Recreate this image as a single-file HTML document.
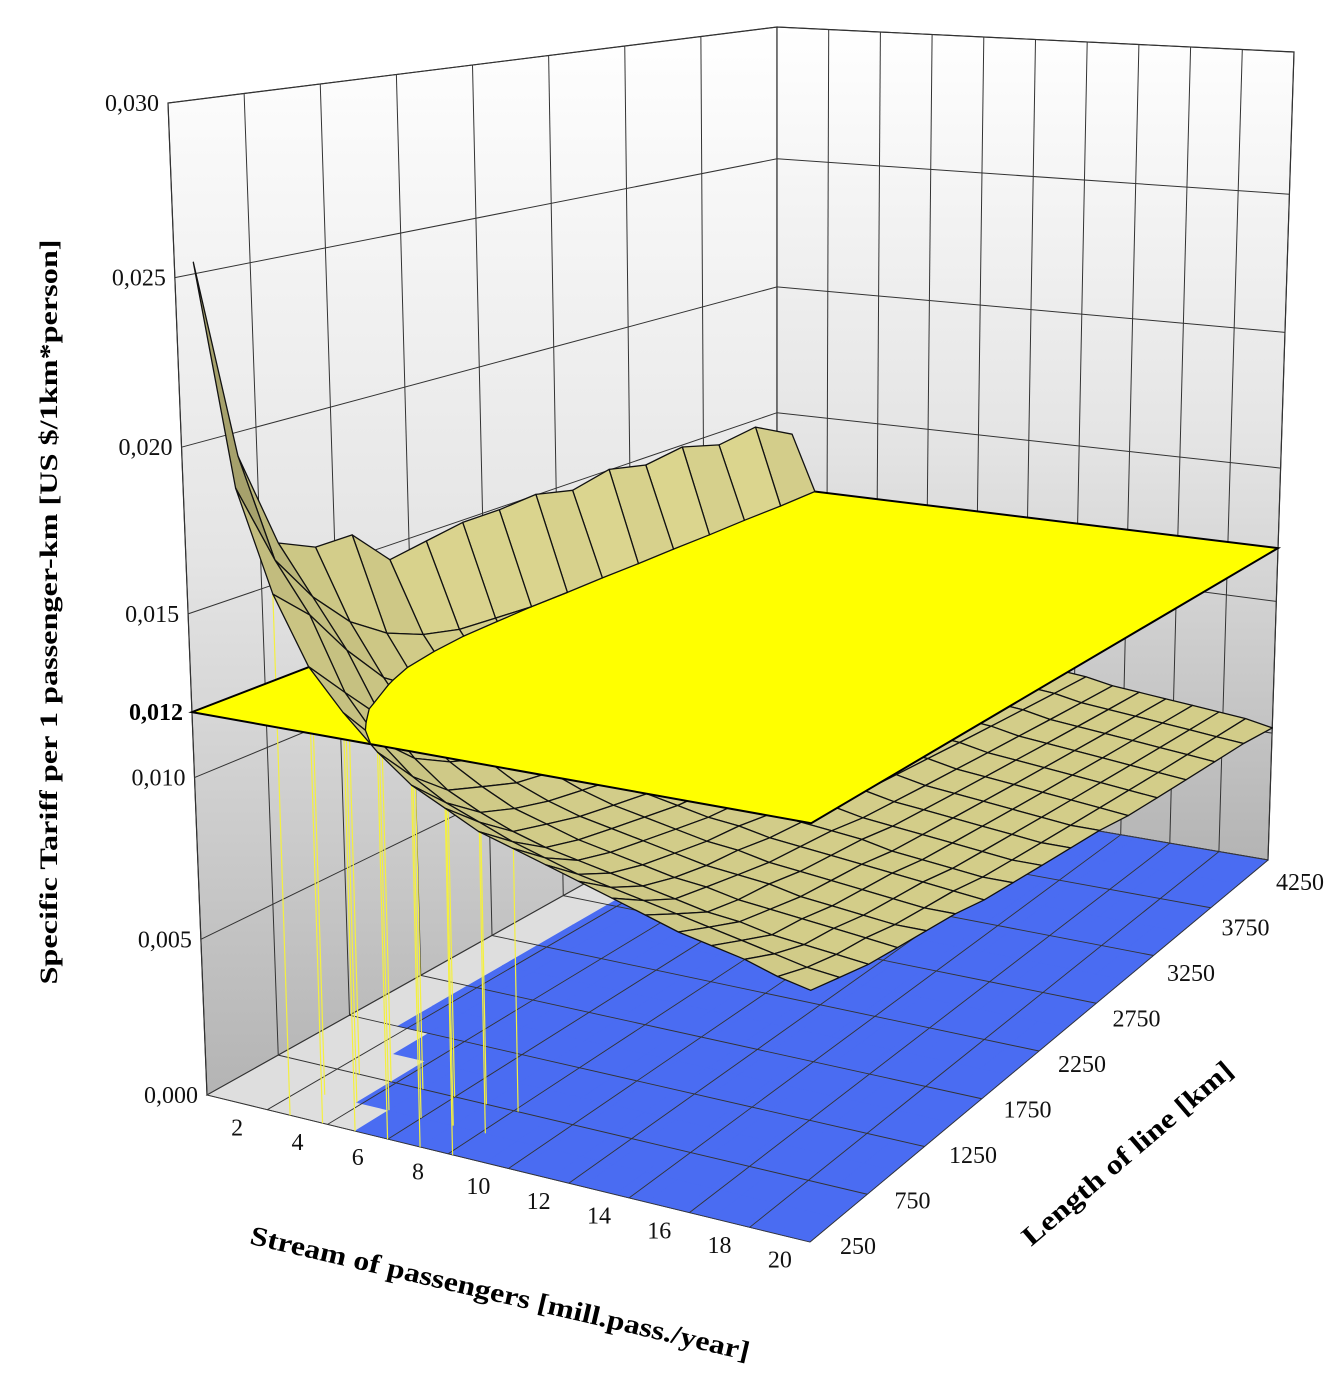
<!DOCTYPE html>
<html><head><meta charset="utf-8"><style>
html,body{margin:0;padding:0;background:#fff;}
svg{display:block;font-family:"Liberation Serif",serif;}
</style></head><body>
<svg id="chart" width="1343" height="1374" viewBox="0 0 1343 1374" xmlns="http://www.w3.org/2000/svg">
<defs>
<linearGradient id="wallGrad" x1="0" y1="0" x2="0" y2="1">
<stop offset="0" stop-color="#ffffff"/><stop offset="0.5" stop-color="#e4e4e4"/><stop offset="1" stop-color="#b4b4b4"/>
</linearGradient>
</defs>
<g id="walls"></g>
<g id="floor"></g>
<g id="surfLow"></g>
<g id="plane"></g>
<g id="surfHigh"></g>
<g id="labels"></g>
<text transform="translate(57,612) rotate(-90)" text-anchor="middle" font-weight="bold" font-size="25" textLength="745" lengthAdjust="spacingAndGlyphs">Specific Tariff per 1 passenger-km [US $/1km*person]</text>
<text transform="translate(498,1302) rotate(13.2)" text-anchor="middle" font-weight="bold" font-size="27" textLength="512" lengthAdjust="spacingAndGlyphs">Stream of passengers [mill.pass./year]</text>
<text transform="translate(1133,1160) rotate(-40.5)" text-anchor="middle" font-weight="bold" font-size="27" textLength="268" lengthAdjust="spacingAndGlyphs">Length of line [km]</text>
</svg>
<script>
const streamValues=[2,3,4,5,6,7,8,9,10,11,12,13,14,15,16,17,18,19,20];
const lengthValues=[250,500,750,1000,1250,1500,1750,2000,2250,2500,2750,3000,3250,3500,3750,4000,4250];
// tariff in units of 1e-4 US$ ; rows = length, cols = stream
const tariffE4=[
[255,190,160,140,128,118,110,105,100,97,94,91,88,85,82,80,78,75,73],
[195,165,150,128,115,106,100,96,92,89,86,84,82,80,78,76,74,72,71],
[165,150,135,116,105,97,92,88,85,83,81,79,77,75,74,72,71,70,69],
[160,138,122,108,99,93,88,85,82,80,78,76,75,73,72,71,70,69,68],
[160,130,114,103,95,89,85,82,80,78,76,74,73,72,70,69,68,67,67],
[148,125,110,100,92,87,83,80,78,76,74,73,71,70,69,68,67,66,66],
[150,122,107,97,90,85,81,78,76,74,73,71,70,69,68,67,66,65,64],
[152,121,105,95,88,83,80,77,75,73,71,70,69,68,66,65,64,63,63],
[152,120,104,94,87,82,79,76,74,72,70,69,67,66,65,64,63,62,62],
[153,120,103,93,86,81,78,75,73,71,69,68,66,65,64,63,62,61,61],
[150,119,102,92,85,80,77,74,72,70,68,67,65,64,63,62,61,60,60],
[153,119,101,91,84,79,76,73,71,69,67,66,64,63,62,61,60,59,58],
[150,118,100,90,83,78,75,72,70,68,66,65,63,62,61,60,59,58,57],
[152,118,100,89,82,77,74,71,69,67,65,64,62,61,60,59,58,57,56],
[148,117,99,88,81,77,73,70,68,66,64,63,61,60,59,58,57,56,55],
[150,117,98,88,81,76,72,69,67,65,63,62,60,59,58,57,56,55,54],
[142,116,98,87,80,75,72,69,66,64,62,61,59,58,57,56,55,54,52]
];
const zTicks=[0,0.005,0.010,0.015,0.020,0.025,0.030];
const zTickLabels=["0,000","0,005","0,010","0,015","0,020","0,025","0,030"];
const planeLevel=0.012;
const planeLabel="0,012";
const streamTicks=[2,4,6,8,10,12,14,16,18,20];
const lengthTicks=[250,750,1250,1750,2250,2750,3250,3750,4250];

const NS="http://www.w3.org/2000/svg";
function mk(tag,attrs,parent){const e=document.createElementNS(NS,tag);for(const k in attrs)e.setAttribute(k,attrs[k]);parent.appendChild(e);return e;}

function gz(z){const f=[0,0.157,0.32,0.485,0.653,0.824,1];const s=z/0.005;let i=Math.floor(s);if(i<0)i=0;if(i>5)i=5;return f[i]+(s-i)*(f[i+1]-f[i]);}
const FLf=[207,1095],FLt=[168,103],FRf=[810,1242],FRt=[813,157],BLf=[777,776],BLt=[777,27],BRf=[1268,860],BRt=[1294,52];
function bil(a,b,c,d,u,v){return [(1-u)*(1-v)*a[0]+u*(1-v)*b[0]+(1-u)*v*c[0]+u*v*d[0],(1-u)*(1-v)*a[1]+u*(1-v)*b[1]+(1-u)*v*c[1]+u*v*d[1]];}
function P(u,v,z){const f=bil(FLf,FRf,BLf,BRf,u,v),t=bil(FLt,FRt,BLt,BRt,u,v),g=gz(z);return [f[0]+g*(t[0]-f[0]),f[1]+g*(t[1]-f[1])];}
const sMin=streamValues[0],sMax=streamValues[streamValues.length-1];
const lMin=lengthValues[0],lMax=lengthValues[lengthValues.length-1];
function uOf(x){return 0.03+0.97*(x-sMin)/(sMax-sMin);}
function vOf(L){return (L-lMin)/(lMax-lMin);}
function zOf(i,j){return tariffE4[j][i]*1e-4;}
function pts(a){return a.map(p=>p[0].toFixed(1)+","+p[1].toFixed(1)).join(" ");}

const walls=document.getElementById('walls'),floor=document.getElementById('floor');
const zTop=zTicks[zTicks.length-1];
const lw=mk('polygon',{points:pts([P(0,0,0),P(0,1,0),P(0,1,zTop),P(0,0,zTop)]),fill:'url(#wallGrad)',stroke:'#222','stroke-width':1.2},walls);


const rw=mk('polygon',{points:pts([P(0,1,0),P(1,1,0),P(1,1,zTop),P(0,1,zTop)]),fill:'url(#wallGrad)',stroke:'#222','stroke-width':1.2},walls);


zTicks.forEach((z,k)=>{
  const a=mk('polyline',{points:pts([P(0,0,z),P(0,1,z),P(1,1,z)]),fill:'none',stroke:'#333','stroke-width':1},walls);
  
  
});
for(let k=0;k<=8;k++){const v=k/8;
  const a=mk('line',{x1:P(0,v,0)[0],y1:P(0,v,0)[1],x2:P(0,v,zTop)[0],y2:P(0,v,zTop)[1],stroke:'#333','stroke-width':1},walls);
  
  
}
for(let k=0;k<=10;k++){const u=k/10;
  const a=mk('line',{x1:P(u,1,0)[0],y1:P(u,1,0)[1],x2:P(u,1,zTop)[0],y2:P(u,1,zTop)[1],stroke:'#333','stroke-width':1},walls);
  
  
}
const fl=mk('polygon',{points:pts([P(0,0,0),P(1,0,0),P(1,1,0),P(0,1,0)]),fill:'#dedede',stroke:'#555','stroke-width':1},floor);


const NX=streamValues.length,NY=lengthValues.length;
for(let j=0;j<NY-1;j++)for(let i=0;i<NX-1;i++){
  const avg=(zOf(i,j)+zOf(i+1,j)+zOf(i,j+1)+zOf(i+1,j+1))/4;
  if(avg<planeLevel){
    const u0=uOf(streamValues[i]),u1=uOf(streamValues[i+1]),v0=vOf(lengthValues[j]),v1=vOf(lengthValues[j+1]);
    const c=mk('polygon',{points:pts([P(u0,v0,0),P(u1,v0,0),P(u1,v1,0),P(u0,v1,0)]),fill:'#4a6cf2',stroke:'#4a6cf2','stroke-width':0.8},floor);
    
    
  }
}
for(let k=0;k<=8;k++){const v=k/8;
  const a=mk('line',{x1:P(0,v,0)[0],y1:P(0,v,0)[1],x2:P(1,v,0)[0],y2:P(1,v,0)[1],stroke:'#333','stroke-width':0.9},floor);
  
  
}
for(let k=0;k<=10;k++){const u=k/10;
  const a=mk('line',{x1:P(u,0,0)[0],y1:P(u,0,0)[1],x2:P(u,1,0)[0],y2:P(u,1,0)[1],stroke:'#333','stroke-width':0.9},floor);
  
  
}
for(let j=0;j<3;j++)for(let i=2;i<8;i++){
  const u=uOf(streamValues[i]),v=vOf(lengthValues[j]);const a=P(u,v,0),b=P(u,v,zOf(i,j));
  const l=mk('line',{x1:a[0],y1:a[1],x2:b[0],y2:b[1],stroke:'#f4f040','stroke-width':1.2},floor);
  
  
}

function clip(poly,above){const out=[];for(let k=0;k<poly.length;k++){const a=poly[k],b=poly[(k+1)%poly.length];
  const ina=above?a.z>=planeLevel:a.z<=planeLevel,inb=above?b.z>=planeLevel:b.z<=planeLevel;
  if(ina)out.push(a);
  if(ina!==inb){const t=(planeLevel-a.z)/(b.z-a.z);out.push({u:a.u+t*(b.u-a.u),v:a.v+t*(b.v-a.v),z:planeLevel});}
 }return out;}
function area(s){let A=0;for(let k=0;k<s.length;k++){const a=s[k],b=s[(k+1)%s.length];A+=a[0]*b[1]-b[0]*a[1];}return A/2;}
const refSign=Math.sign(area([P(0,0,0),P(1,0,0),P(1,1,0),P(0,1,0)]));
const cells=[];
for(let j=0;j<NY-1;j++)for(let i=0;i<NX-1;i++){
  const u0=uOf(streamValues[i]),u1=uOf(streamValues[i+1]),v0=vOf(lengthValues[j]),v1=vOf(lengthValues[j+1]);
  const q=[{u:u0,v:v0,z:zOf(i,j)},{u:u1,v:v0,z:zOf(i+1,j)},{u:u1,v:v1,z:zOf(i+1,j+1)},{u:u0,v:v1,z:zOf(i,j+1)}];
  const dzu=(q[1].z+q[2].z-q[0].z-q[3].z)/2, dzv=(q[3].z+q[2].z-q[0].z-q[1].z)/2;
  cells.push({q,key:(u0+u1)/2-(v0+v1)/2,dzu,dzv});
}
cells.sort((a,b)=>a.key-b.key);
function color(c,scr){
  if(Math.sign(area(scr))!==refSign)return 'rgb(78,76,52)';
  let s=1+c.dzv*60-c.dzu*8;s=Math.max(0.72,Math.min(1.12,s));
  return 'rgb('+Math.round(Math.min(255,212*s))+','+Math.round(Math.min(255,206*s))+','+Math.round(Math.min(255,138*s))+')';
}
function drawPart(group,above){
  cells.forEach(c=>{const p=clip(c.q,above);if(p.length<3)return;
    const full=c.q.map(o=>P(o.u,o.v,o.z));const scr=p.map(o=>P(o.u,o.v,o.z));
    const e=mk('polygon',{points:pts(scr),fill:color(c,full),stroke:'#111','stroke-width':1.3,'stroke-linejoin':'round'},group);
    
    
  });
}
drawPart(document.getElementById('surfLow'),false);
const pl=mk('polygon',{points:pts([P(0,0,planeLevel),P(1,0,planeLevel),P(1,1,planeLevel),P(0,1,planeLevel)]),fill:'#ffff00',stroke:'#000','stroke-width':2},document.getElementById('plane'));


drawPart(document.getElementById('surfHigh'),true);

const lab=document.getElementById('labels');
zTicks.forEach((z,k)=>{const p=P(0,0,z);
  const t=mk('text',{x:p[0]-9,y:p[1]+8,'text-anchor':'end','font-size':24,fill:'#111'},lab);t.textContent=zTickLabels[k];
  
  
});
{const p=P(0,0,planeLevel);const t=mk('text',{x:p[0]-9,y:p[1]+8,'text-anchor':'end','font-size':24,'font-weight':'bold',fill:'#000'},lab);t.textContent=planeLabel;
  
  }
streamTicks.forEach((s,k)=>{const p=P((k+0.5)/streamTicks.length,0,0);
  const t=mk('text',{x:p[0],y:p[1]+33,'text-anchor':'middle','font-size':24,fill:'#111'},lab);t.textContent=s;
  
  
});
lengthTicks.forEach((L,k)=>{const v=vOf(L);const p=P(1,v,0);
  const t=mk('text',{x:p[0]+30-22*v,y:p[1]+12+18*v,'text-anchor':'start','font-size':24,fill:'#111'},lab);t.textContent=L;
  
  
});
</script>
</body></html>
